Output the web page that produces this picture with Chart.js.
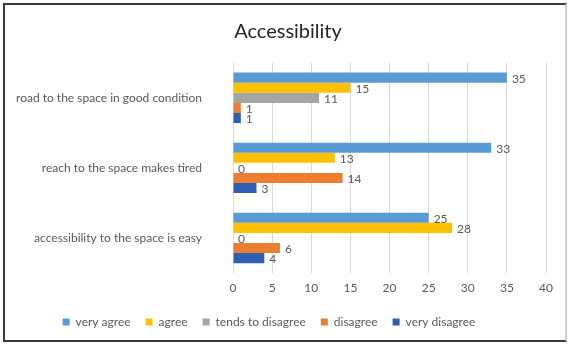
<!DOCTYPE html>
<html>
<head>
<meta charset="utf-8">
<script src="https://cdn.jsdelivr.net/npm/chart.js@4.4.1/dist/chart.umd.min.js"></script>
<style>
  html, body { margin: 0; padding: 0; background: #ffffff; }
  #wrap { position: relative; width: 568px; height: 344px; }
  #frame { position: absolute; left: 3px; top: 3px; width: 560px; height: 335px;
           border: 2px solid #3a3a3a; border-right-color: #cfcfcf; pointer-events: none; }
  canvas { position: absolute; left: 0; top: 0; }
</style>
</head>
<body>
<div id="wrap">
  <canvas id="chart" width="568" height="344"></canvas>
  <div id="frame"></div>
</div>
<script>
// Survey statements (y axis, top to bottom)
const categories = [
  "road to the space in good condition",
  "reach to the space makes tired",
  "accessibility to the space is easy"
];

// Number of answers per response level
const veryAgree      = [35, 33, 25];
const agree          = [15, 13, 28];
const tendsDisagree  = [11, 0, 0];
const disagree       = [1, 14, 6];
const veryDisagree   = [1, 3, 4];

const seriesNames = ["very agree", "agree", "tends to disagree", "disagree", "very disagree"];
const seriesColors = ["#5b9bd5", "#ffc000", "#a5a5a5", "#ed7d31", "#2f5fb3"];
const xTicks = [0, 5, 10, 15, 20, 25, 30, 35, 40];
const chartTitle = "Accessibility";

const FONT = "Lato, 'Open Sans', sans-serif";
const TEXT = "#595959";

// Writes each bar's value just past its end
const valueLabels = {
  id: "valueLabels",
  afterDatasetsDraw(chart) {
    const ctx = chart.ctx;
    ctx.save();
    ctx.font = "12px " + FONT;
    ctx.fillStyle = TEXT;
    ctx.textAlign = "left";
    ctx.textBaseline = "middle";
    chart.data.datasets.forEach((ds, i) => {
      chart.getDatasetMeta(i).data.forEach((bar, j) => {
        ctx.fillText(String(ds.data[j]), bar.x + 5, bar.y + 1);
      });
    });
    ctx.restore();
  }
};

// Title sits a little right of the canvas centre; legend a little left
const placement = {
  id: "placement",
  afterLayout(chart) {
    const lg = chart.legend;
    if (lg && !lg._shifted) {
      const orig = lg.draw.bind(lg);
      lg.draw = function (area) {
        chart.ctx.save();
        chart.ctx.translate(-6, 0);
        orig(area);
        chart.ctx.restore();
      };
      lg._shifted = true;
    }
  },
  afterDraw(chart) {
    const t = chart.titleBlock;
    const ctx = chart.ctx;
    ctx.save();
    ctx.font = "20px " + FONT;
    ctx.fillStyle = "#262626";
    ctx.textAlign = "center";
    ctx.textBaseline = "middle";
    ctx.fillText(chartTitle, 288, (t.top + t.bottom) / 2 - 2);
    ctx.restore();
  }
};

const allSeries = [veryAgree, agree, tendsDisagree, disagree, veryDisagree];

new Chart(document.getElementById("chart"), {
  type: "bar",
  data: {
    labels: categories,
    datasets: allSeries.map((vals, i) => ({
      label: seriesNames[i],
      data: vals,
      backgroundColor: seriesColors[i],
      borderWidth: 0,
      categoryPercentage: 0.72,
      barPercentage: 1.0
    }))
  },
  options: {
    indexAxis: "y",
    responsive: false,
    animation: false,
    layout: { padding: { top: 4, left: 4, right: 22, bottom: 6 } },
    scales: {
      x: {
        min: 0, max: 40,
        afterBuildTicks(scale) { scale.ticks = xTicks.map(v => ({ value: v })); },
        grid: { color: "#d9d9d9", drawTicks: false },
        border: { display: false },
        ticks: { color: TEXT, font: { family: FONT, size: 12 }, padding: 8 },
        afterFit(scale) { scale.height = 28; }
      },
      y: {
        grid: { display: false, drawTicks: false },
        border: { display: false },
        ticks: { color: TEXT, font: { family: FONT, size: 12 }, padding: 31 },
        afterFit(scale) { scale.width = 229; }
      }
    },
    plugins: {
      title: {
        display: true,
        text: chartTitle,
        color: "rgba(0,0,0,0)",
        font: { family: FONT, size: 19, weight: "normal" },
        padding: { top: 16, bottom: 20 }
      },
      legend: {
        position: "bottom",
        labels: {
          color: TEXT,
          font: { family: FONT, size: 12 },
          boxWidth: 7, boxHeight: 7,
          padding: 15
        }
      },
      tooltip: { enabled: false }
    }
  },
  plugins: [valueLabels, placement]
});
</script>
</body>
</html>
